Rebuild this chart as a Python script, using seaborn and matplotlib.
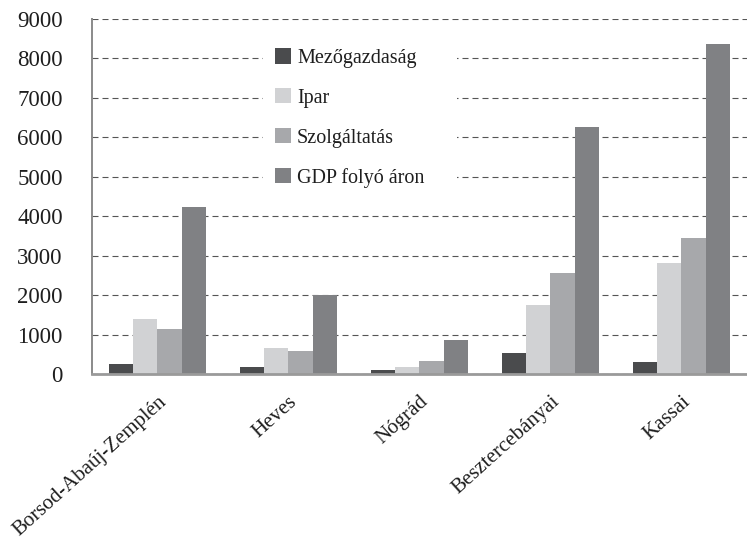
import matplotlib
matplotlib.use("Agg")
import matplotlib.pyplot as plt
import seaborn as sns
import pandas as pd

# Regional GDP by sector
regions = ["Borsod-Abaúj-Zemplén", "Heves", "Nógrád", "Besztercebányai", "Kassai"]
sectors = ["Mezőgazdaság", "Ipar", "Szolgáltatás", "GDP folyó áron"]
mezogazdasag = [250, 180, 110, 525, 320]
ipar = [1400, 660, 190, 1760, 2820]
szolgaltatas = [1140, 590, 330, 2560, 3440]
gdp = [4240, 2000, 870, 6270, 8370]
y_ticks = [0, 1000, 2000, 3000, 4000, 5000, 6000, 7000, 8000, 9000]

colors = ["#4a4b4d", "#d1d2d4", "#a7a8ab", "#808184"]

rows = []
for name, vals in zip(sectors, [mezogazdasag, ipar, szolgaltatas, gdp]):
    for reg, v in zip(regions, vals):
        rows.append({"Régió": reg, "Ágazat": name, "Érték": v})
df = pd.DataFrame(rows)

sns.set_theme(style="white")
plt.rcParams["font.family"] = "serif"
plt.rcParams["font.serif"] = ["Liberation Serif", "DejaVu Serif"]

fig = plt.figure(figsize=(7.47, 5.43), dpi=100)
ax = fig.add_axes([0.123, 0.311, 0.877, 0.654])

sns.barplot(data=df, x="Régió", y="Érték", hue="Ágazat", order=regions,
            hue_order=sectors, palette=colors, width=0.74, saturation=1,
            edgecolor="none", linewidth=0, ax=ax, zorder=3)

ax.set_ylim(0, 9000)
ax.set_xlim(-0.5, 4.5)
ax.set_yticks(y_ticks)
ax.set_yticklabels([str(t) for t in y_ticks], fontsize=16.5, color="#1e1e1e")
ax.tick_params(axis="y", length=0, pad=21)
ax.tick_params(axis="x", length=0, pad=13)
ax.set_xlabel("")
ax.set_ylabel("")

ax.yaxis.grid(True, color="#555555", linewidth=0.8, linestyle=(0, (5.4, 3.6)))
ax.set_axisbelow(True)

for s in ["top", "right"]:
    ax.spines[s].set_visible(False)
ax.spines["left"].set_color("#8a8a8a")
ax.spines["left"].set_linewidth(1.4)
ax.spines["bottom"].set_color("#9a9a9a")
ax.spines["bottom"].set_linewidth(2.0)
ax.spines["bottom"].set_zorder(4)

for lab in ax.get_xticklabels():
    lab.set_rotation(42)
    lab.set_ha("right")
    lab.set_va("top")
    lab.set_rotation_mode("anchor")
    lab.set_fontsize(15)
    lab.set_color("#1e1e1e")

leg = ax.legend(loc="upper left", bbox_to_anchor=(0.261, 0.5, 0.296, 0.452),
                mode="expand", frameon=True,
                facecolor="white", edgecolor="none", framealpha=1,
                fontsize=14.5, handlelength=0.8, handleheight=0.8,
                handletextpad=0.3, labelspacing=1.0, borderpad=0.6,
                borderaxespad=0)
leg.get_frame().set_linewidth(0)
leg.set_zorder(5)
for t in leg.get_texts():
    t.set_color("#1e1e1e")

fig.savefig("out.png", dpi=100, facecolor="white")
